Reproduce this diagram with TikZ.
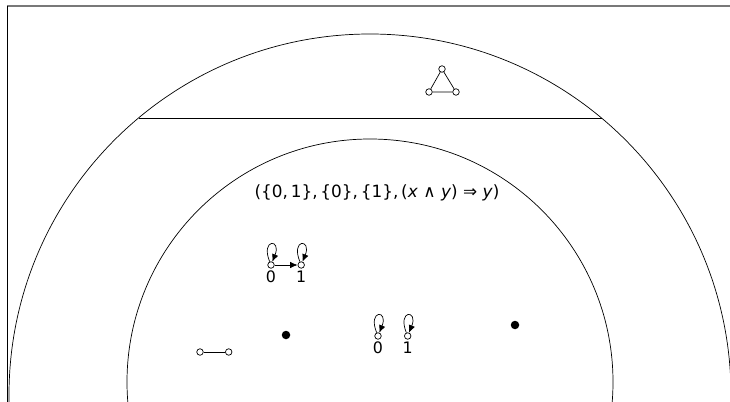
\documentclass[tikz,border=0pt]{standalone}
\usepackage{fontspec}
\setmainfont{DejaVu Sans}
\usetikzlibrary{arrows.meta,positioning}
\definecolor{framegray}{RGB}{120,120,120}

\begin{document}
\begin{tikzpicture}[x=0.02cm,y=-0.02cm,>={Latex[length=1.5mm,width=1.3mm]},
  vert/.style={draw,circle,fill=white,inner sep=0pt,minimum size=0.13cm},
  dot/.style={circle,fill=black,inner sep=0pt,minimum size=0.17cm},
  lbl/.style={font=\small,inner sep=1pt},
  selfloop/.style={loop,out=112,in=68,min distance=0.5cm,looseness=12},
  node distance=0.46cm]
\useasboundingbox (0,0) rectangle (730,402);
\draw[framegray,semithick] (7,6) -- (730,6);
\draw (7,6) -- (7,402);
\begin{scope}
\clip (7,6) rectangle (730,402);
\draw (370,395) circle[radius=361];
\draw (370,382) circle[radius=243];
\draw (138.5,118) -- (601.5,118);
\end{scope}
% triangle
\node[vert] (ta) at (442,69) {};
\node[vert] (tb) at (429,92) {};
\node[vert] (tc) at (456,92) {};
\draw (ta) -- (tb) -- (tc) -- (ta);
% structure
\node[font=\fontsize{9.6}{11}\selectfont] (struct) at (377,193) {(\{0,\,1\},\,\{0\},\,\{1\},\,(\textit{x} ∧ \textit{y}) ⇒ \textit{y})};
% implication graph
\node[vert,label={[lbl]below:0}] (a0) at (271,265) {};
\node[vert,label={[lbl]below:1},right=of a0] (a1) {};
\draw[->] (a0) edge[selfloop] (a0);
\draw[->] (a1) edge[selfloop] (a1);
\draw[->] (a0) -- (a1);
% discrete graph
\node[vert,label={[lbl]below:0}] (b0) at (378,336) {};
\node[vert,label={[lbl]below:1},right=0.45cm of b0] (b1) {};
\draw[->] (b0) edge[selfloop] (b0);
\draw[->] (b1) edge[selfloop] (b1);
% edge
\node[vert] (e0) at (200,352) {};
\node[vert,right=0.43cm of e0] (e1) {};
\draw (e0) -- (e1);
% points
\node[dot] (p1) at (286,335) {};
\node[dot] (p2) at (515,325) {};
\end{tikzpicture}
\end{document}
